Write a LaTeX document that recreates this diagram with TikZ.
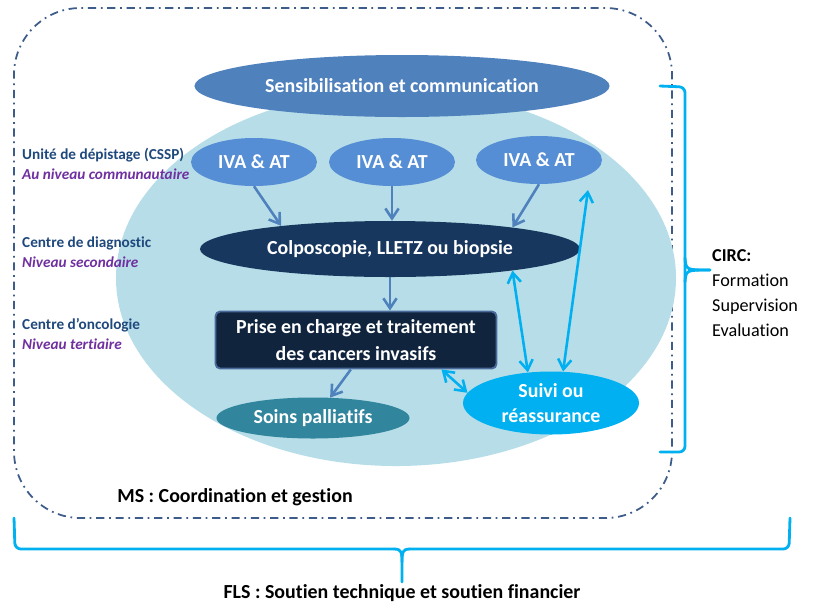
\documentclass[tikz,border=0pt]{standalone}
\usepackage{fontspec}
\setmainfont{Carlito}[Ligatures=NoCommon]
\usetikzlibrary{arrows.meta,shapes.geometric}
\definecolor{pzone}{HTML}{B7DEE8}
\definecolor{psens}{HTML}{4F81BD}
\definecolor{piva}{HTML}{558ED5}
\definecolor{pcolpo}{HTML}{17375E}
\definecolor{pprise}{HTML}{10243E}
\definecolor{pedge}{HTML}{4A6A9B}
\definecolor{psoins}{HTML}{31859C}
\definecolor{psuivi}{HTML}{00B0F0}
\definecolor{plevel}{HTML}{1F497D}
\definecolor{ppurple}{HTML}{7030A0}
\definecolor{pframe}{HTML}{3E5C8A}
\tikzset{
  oval/.style={ellipse, inner sep=0pt, text=white, align=center,
               font=\bfseries\fontsize{17}{22}\selectfont},
  boxed/.style={rectangle, rounded corners=4pt, draw=pedge, line width=1.6pt,
                fill=pprise, text=white, align=center,
                font=\bfseries\fontsize{17}{23}\selectfont},
  level/.style={anchor=west, align=left, text=plevel, inner sep=0pt,
                font=\bfseries\fontsize{13}{17}\selectfont},
  down/.style={-{Straight Barb[length=3mm, width=4mm]}, draw=psens, line width=2.2pt},
  both/.style={{Straight Barb[length=3mm, width=4mm]}-{Straight Barb[length=3mm, width=4mm]},
               draw=psuivi, line width=2.2pt},
  brace/.style={draw=psuivi, line width=2.4pt, line cap=round, rounded corners=5pt},
  frame/.style={draw=pframe, line width=1.5pt,
                dash pattern=on 7pt off 4pt on 1.5pt off 4pt},
  note/.style={inner sep=0pt, text=black, font=\bfseries\fontsize{17}{20}\selectfont},
}

\begin{document}
\begin{tikzpicture}[x=0.03cm, y=-0.03cm]
  \useasboundingbox[fill=white] (0,0) rectangle (816,605);

  \draw[frame, rounded corners=2cm] (14,300) -- (14,8) -- (672,8) -- (672,518) -- (14,518) -- cycle;

  \node[ellipse, fill=pzone, minimum width=16.8cm, minimum height=11.28cm] (zone) at (396,278) {};

  \node[oval, fill=psens, minimum width=12.45cm, minimum height=1.86cm] (sensib) at (402,86)
    {Sensibilisation et communication};

  \node[oval, fill=piva, minimum width=3.78cm, minimum height=1.44cm] (iva1) at (254,162) {IVA \& AT};
  \node[oval, fill=piva, minimum width=3.78cm, minimum height=1.44cm] (iva2) at (392,162) {IVA \& AT};
  \node[oval, fill=piva, minimum width=3.78cm, minimum height=1.44cm] (iva3) at (539,160) {IVA \& AT};

  \node[oval, fill=pcolpo, minimum width=11.4cm, minimum height=1.68cm] (colpo) at (390,249)
    {Colposcopie, LLETZ ou biopsie};

  \node[boxed, minimum width=8.43cm, minimum height=1.71cm] (prise) at (356,340)
    {Prise en charge et traitement\\des cancers invasifs};

  \node[oval, fill=psoins, minimum width=5.79cm, minimum height=1.23cm] (soins) at (313,418)
    {Soins palliatifs};
  \node[oval, fill=psuivi, minimum width=5.28cm, minimum height=1.89cm] (suivi) at (551,403)
    {Suivi ou\\réassurance};

  \node[level] (lvl1) at (22,164) {Unité de dépistage (CSSP)\\\textcolor{ppurple}{\itshape Au niveau communautaire}};
  \node[level] (lvl2) at (22,252) {Centre de diagnostic\\\textcolor{ppurple}{\itshape Niveau secondaire}};
  \node[level] (lvl3) at (22,334) {Centre d’oncologie\\\textcolor{ppurple}{\itshape Niveau tertiaire}};

  \node[anchor=west, align=left, inner sep=0pt, font=\fontsize{15.5}{21.3}\selectfont] (circ) at (712,293)
    {\textbf{CIRC:}\\Formation\\Supervision\\Evaluation};

  \node[note] (ms) at (235,497) {MS : Coordination et gestion};
  \node[note] (fls) at (402,593) {FLS : Soutien technique et soutien financier};

  \coordinate (circtop) at (588,190);

  \draw[down] (iva1.south) -- (colpo.168);
  \draw[down] (iva2.south) -- (iva2.south |- colpo.north);
  \draw[down] (iva3.south) -- (colpo.10);
  \draw[down] (colpo.south) -- (colpo.south |- prise.north);
  \draw[down] (prise.-100) -- (soins.50);

  \draw[both] (prise.-19) -- (suivi.173);
  \draw[both] (colpo.-10) -- (suivi.127);
  \draw[both] (circtop) -- (suivi.69);

  \draw[brace] (660,86) -- (685,87) -- (685,452) -- (660,452);
  \draw[brace, rounded corners=0pt] (685,258) .. controls (686,270) .. (710,270);
  \draw[brace, rounded corners=0pt] (685,282) .. controls (686,270) .. (710,270);

  \draw[brace] (14,518) -- (15,549) -- (394,549);
  \draw[brace] (790,518) -- (789,549) -- (410,549);
  \draw[brace, rounded corners=0pt] (394,549) .. controls (402,549) and (402,553) .. (402,562) -- (402,582);
  \draw[brace, rounded corners=0pt] (410,549) .. controls (402,549) and (402,553) .. (402,562);
\end{tikzpicture}
\end{document}
